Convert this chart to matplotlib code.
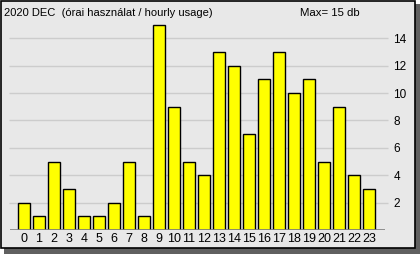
import matplotlib
matplotlib.use('Agg')
import matplotlib.pyplot as plt
from matplotlib.patches import Rectangle

hours = list(range(24))
usage = [2, 1, 5, 3, 1, 1, 2, 5, 1, 15, 9, 5, 4, 13, 12, 7, 11, 13, 10, 11, 5, 9, 4, 3]
yticks = [2, 4, 6, 8, 10, 12, 14]
title = '2020 DEC  (órai használat / hourly usage)'
max_text = 'Max= 15 db'

plt.rcParams['font.family'] = ['Liberation Sans', 'DejaVu Sans']

W, H = 420, 254
fig = plt.figure(figsize=(W / 100, H / 100), dpi=100, facecolor='white')

# panel with shadow, kept behind the axes
fig.patches.append(Rectangle((4 / W, 0), 416 / W, 250 / H, transform=fig.transFigure,
                             facecolor='#606060', edgecolor='none', zorder=-2))
fig.patches.append(Rectangle((0.5 / W, 6.5 / H), 414 / W, 247 / H, transform=fig.transFigure,
                             facecolor='#e8e8e8', edgecolor='black', linewidth=1.2, zorder=-1))

ax = fig.add_axes([10 / W, 24 / H, 375 / W, 210 / H])
ax.set_facecolor('none')
ax.set_xlim(-0.93, 24.07)
ax.set_ylim(0, 15.33)

ax.hlines(yticks, -1.0, 24.3, color='#cccccc', linewidth=1, clip_on=False, zorder=1)
ax.bar(hours, usage, width=0.8, color='#ffff00', edgecolor='black', linewidth=1, zorder=2)
ax.axhline(0, color='#808080', linewidth=1.2, zorder=3)

for s in ax.spines.values():
    s.set_visible(False)
ax.set_xticks(hours)
ax.set_xticklabels([str(h) for h in hours], fontsize=9)
ax.set_yticks(yticks)
ax.yaxis.tick_right()
ax.set_yticklabels([str(v) for v in yticks], fontsize=8.5)
ax.tick_params(axis='both', length=0, colors='black')
ax.tick_params(axis='x', pad=2)
ax.tick_params(axis='y', pad=6)

fig.text(4 / W, 1 - 13 / H, title, fontsize=8, va='center', ha='left')
fig.text(300 / W, 1 - 13 / H, max_text, fontsize=8.2, va='center', ha='left')

fig.savefig('out.png', dpi=100, facecolor='white')
